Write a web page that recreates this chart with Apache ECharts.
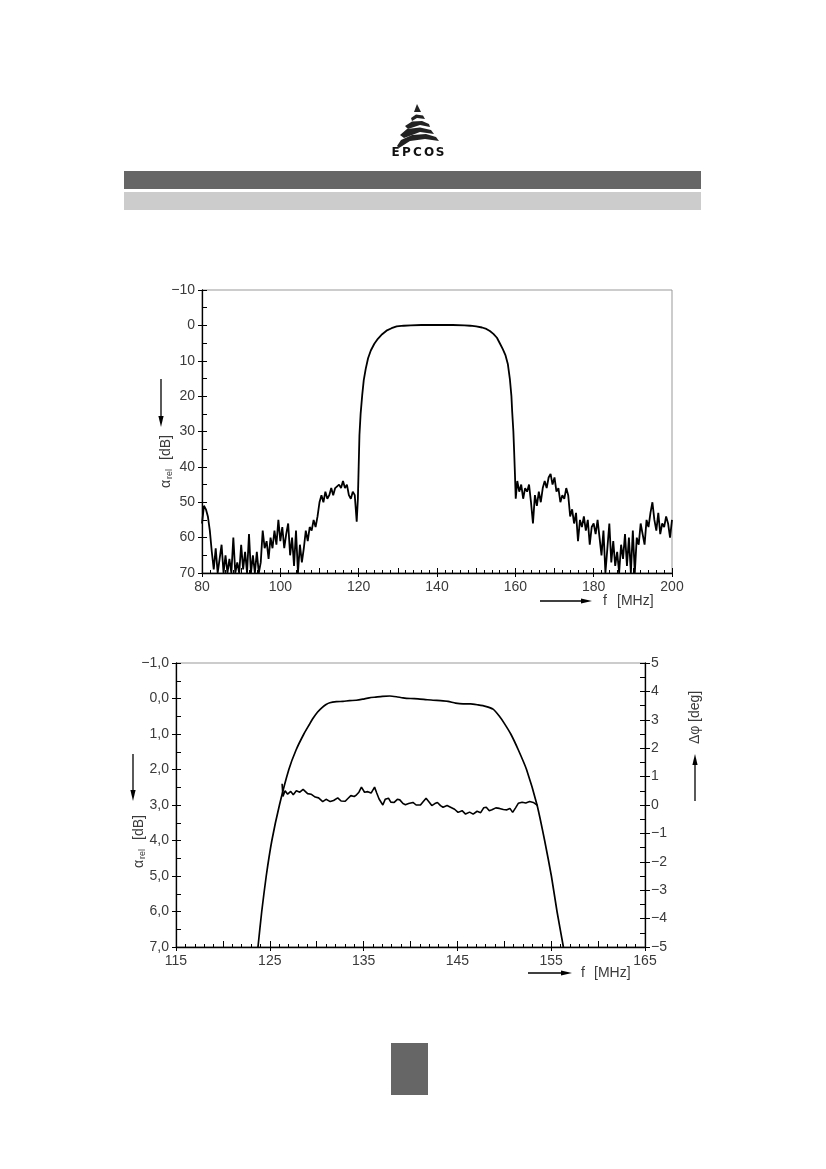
<!DOCTYPE html>
<html>
<head>
<meta charset="utf-8">
<script src="https://cdn.jsdelivr.net/npm/echarts@6/dist/echarts.min.js"></script>
<style>
html, body { margin: 0; padding: 0; background: #fff; }
#main { width: 826px; height: 1169px; }
</style>
</head>
<body>
<div id="main"></div>
<script>
// upper chart: attenuation 80..200 MHz
var topFreq = [
  80, 80.5, 81, 81.5, 82, 82.5, 83, 83.5, 84, 84.5, 85, 85.5, 86, 86.5, 87, 87.5, 88, 88.5, 89, 89.5,
  90, 90.5, 91, 91.5, 92, 92.5, 93, 93.5, 94, 94.5, 95, 95.5, 96, 96.5, 97, 97.5, 98, 98.5, 99, 99.5,
  100, 100.5, 101, 101.5, 102, 102.5, 103, 103.5, 104, 104.5, 105, 105.5, 106, 106.5, 107, 107.5, 108, 108.5, 109, 109.5,
  110, 110.5, 111, 111.5, 112, 112.5, 113, 113.5, 114, 114.5, 115, 115.5, 116, 116.5, 117, 117.5, 118, 118.5, 119, 119.5,
  119.8, 120, 120.2, 120.5, 120.9, 121.3, 121.8, 122.4, 123.1, 124, 124.9, 126, 127.1, 128.4, 129.7,
  131.5, 133.3, 136, 140, 144, 147, 148.5, 150, 151.5, 152.6, 153.5, 154.4, 155.3, 156.1, 156.8,
  157.5, 158.1, 158.6, 159, 159.2, 159.5, 159.7, 159.9, 160.1,
  160.5, 161, 161.5, 162, 162.5, 163, 163.5, 164, 164.5, 165, 165.5, 166, 166.5, 167, 167.5, 168, 168.5, 169, 169.5, 170,
  170.5, 171, 171.5, 172, 172.5, 173, 173.5, 174, 174.5, 175, 175.5, 176, 176.5, 177, 177.5, 178, 178.5, 179, 179.5, 180,
  180.5, 181, 181.5, 182, 182.5, 183, 183.5, 184, 184.5, 185, 185.5, 186, 186.5, 187, 187.5, 188, 188.5, 189, 189.5, 190,
  190.5, 191, 191.5, 192, 192.5, 193, 193.5, 194, 194.5, 195, 195.5, 196, 196.5, 197, 197.5, 198, 198.5, 199, 199.5, 200
];
var topAtt = [
  56, 51, 52, 54, 58, 64, 69, 63, 70, 66, 62, 70, 65, 70, 66, 70, 60, 70, 67, 70,
  62, 69, 64, 70, 59, 70, 65, 70, 64, 70, 67, 58, 63, 61, 66, 60, 63, 58, 62, 55,
  61, 57, 63, 59, 56, 65, 60, 68, 58, 70, 62, 67, 63, 58, 61, 57, 58, 55, 57, 54,
  50, 48, 50, 47, 49, 48, 46, 48, 46, 46, 45, 46, 44, 46, 45, 48, 49, 47, 48, 55.5,
  49, 40, 31, 25, 19.8, 15.5, 12.3, 9.3, 7.1, 5.2, 3.8, 2.5, 1.5, 0.8, 0.3,
  0.1, 0, -0.1, -0.1, -0.1, 0, 0.1, 0.3, 0.6, 1.0, 1.6, 2.4, 3.5, 5.2, 6.7,
  8.5, 11, 15.1, 20, 24.5, 30, 35.8, 42, 49,
  44, 47, 45, 49, 46, 47, 45, 50, 56, 48, 51, 47, 50, 46, 44, 46, 43, 42, 45, 43,
  47, 46, 50, 48, 49, 46, 48, 54, 52, 56, 53, 61, 55, 57, 54, 58, 55, 62, 57, 56,
  59, 55, 60, 65, 58, 70, 63, 56, 67, 61, 68, 64, 70, 62, 66, 59, 68, 60, 70, 58,
  70, 60, 62, 56, 59, 62, 55, 57, 53, 50, 55, 58, 53, 59, 56, 57, 54, 56, 60, 55
];

// lower chart: passband attenuation (left axis) and phase deviation (right axis)
var botFreq = [
  123.74, 124.14, 124.62, 125.22, 126.03, 127.03, 127.8, 128.63, 129.2, 129.63, 130.1, 130.6, 131.0, 131.4, 132.1, 132.8, 133.5,
  134.2, 134.9, 135.6, 136.3, 137.0, 137.8, 138.5, 139.2, 140.0, 140.8, 141.6, 142.4, 143.2, 144.0, 144.8,
  145.6, 146.4, 147.2, 148.0, 148.8, 149.48, 150.0, 150.69, 151.5, 152.37, 153.49, 154.3, 155.02, 155.62, 156.3
];
var botAtt = [
  7.0, 6.0, 5.0, 4.0, 3.0, 2.0, 1.45, 1.0, 0.74, 0.55, 0.38, 0.25, 0.17, 0.12, 0.09, 0.08, 0.06,
  0.05, 0.02, -0.02, -0.04, -0.06, -0.07, -0.05, -0.02, 0.0, 0.01, 0.03, 0.05, 0.06, 0.08, 0.13,
  0.15, 0.15, 0.18, 0.22, 0.3, 0.5, 0.7, 1.0, 1.45, 2.0, 3.0, 4.0, 5.0, 6.0, 7.0
];
var phFreq = [
  126.31, 126.4, 126.63, 126.9, 127.23, 127.5, 127.83, 128.2, 128.55, 129.03, 129.4, 129.84, 130.2, 130.64,
  131.0, 131.44, 131.8, 132.24, 132.6, 133.04, 133.3, 133.64, 134.0, 134.25, 134.5, 134.77, 135.1, 135.45,
  135.8, 136.17, 136.4, 136.65, 137.05, 137.3, 137.65, 137.9, 138.26, 138.6, 138.86, 139.2, 139.46, 139.8,
  140.26, 140.6, 141.06, 141.3, 141.66, 142.0, 142.27, 142.6, 142.87, 143.2, 143.47, 143.9, 144.27, 144.7,
  145.07, 145.5, 145.87, 146.3, 146.68, 147.1, 147.48, 147.8, 148.08, 148.4, 148.68, 149.1, 149.48, 149.9,
  150.28, 150.6, 150.89, 151.2, 151.49, 151.9, 152.29, 152.7, 153.09, 153.3, 153.57
];
var phDeg = [
  0.75, 0.3, 0.5, 0.38, 0.48, 0.36, 0.5, 0.45, 0.55, 0.4, 0.38, 0.28, 0.25, 0.12,
  0.2, 0.12, 0.16, 0.25, 0.14, 0.13, 0.22, 0.33, 0.3, 0.36, 0.45, 0.63, 0.45, 0.47,
  0.42, 0.63, 0.42, 0.21, 0.0, 0.2, 0.24, 0.1, 0.09, 0.2, 0.18, 0.05, 0.01, 0.05,
  0.09, 0.0, 0.0, 0.1, 0.24, 0.1, -0.02, 0.05, 0.09, -0.02, -0.08, -0.02, -0.08, -0.15,
  -0.26, -0.2, -0.32, -0.25, -0.32, -0.22, -0.27, -0.1, -0.08, -0.2, -0.17, -0.1, -0.12, -0.16,
  -0.17, -0.12, -0.26, -0.1, 0.06, 0.1, 0.07, 0.12, 0.09, 0.12, -0.02
];

var FONT = "'Liberation Sans Narrow', 'Liberation Sans', sans-serif";
var TXT = '#3a3a3a';

function zip(xs, ys) {
    return xs.map(function (x, i) { return [x, ys[i]]; });
}
function minus(v) {
    return String(v).replace('-', '\u2212');
}
function comma(v) {
    return minus(v.toFixed(1).replace('.', ','));
}

// a labelled axis plus a twin that carries only the finer inside ticks
function mainAxis(extra) {
    return Object.assign({
        type: 'value',
        axisLine: { show: true, onZero: false, lineStyle: { color: '#000', width: 1.3 } },
        axisTick: { show: true, length: 4, lineStyle: { color: '#000', width: 1 } },
        splitLine: { show: false },
        axisLabel: { color: TXT, fontFamily: FONT, fontSize: 14, margin: 7 }
    }, extra);
}
function tickAxis(extra, minor) {
    return Object.assign({
        type: 'value',
        axisLine: { show: false, onZero: false },
        axisLabel: { show: false },
        splitLine: { show: false },
        axisTick: { show: true, inside: true, length: 5, lineStyle: { color: '#000', width: 1 } },
        minorTick: minor ? { show: true, splitNumber: minor, length: 3, lineStyle: { color: '#000', width: 1 } } : { show: false }
    }, extra);
}

function arrow(x1, y1, x2, y2) {
    var dx = x2 - x1, dy = y2 - y1, len = Math.sqrt(dx * dx + dy * dy);
    var ux = dx / len, uy = dy / len, hl = 11, hw = 2.6;
    var bx = x2 - ux * hl, by = y2 - uy * hl;
    return [
        { type: 'line', shape: { x1: x1, y1: y1, x2: bx, y2: by }, style: { stroke: '#000', lineWidth: 1.3 } },
        { type: 'polygon', shape: { points: [[x2, y2], [bx - uy * hw, by + ux * hw], [bx + uy * hw, by - ux * hw]] }, style: { fill: '#000' } }
    ];
}
function txt(x, y, s, size, align) {
    return { type: 'text', x: x, y: y, style: { text: s, fill: TXT, fontFamily: FONT, fontSize: size || 14, align: align || 'left', verticalAlign: 'middle' } };
}
// rotated axis title: symbol + subscript + unit, reading bottom to top
function vTitle(x, y, sym, sub, unit) {
    var kids = [txt(0, 0, sym, 14)];
    if (sub) kids.push(txt(9, 4, sub, 9));
    kids.push(txt(sub ? 28 : 22, 0, unit, 14));
    return { type: 'group', x: x, y: y, rotation: Math.PI / 2, children: kids };
}
function logoLetter(x, s) {
    return { type: 'text', x: x, y: 153, style: { text: s, fill: '#111', fontFamily: 'DejaVu Sans', fontWeight: 'bold', fontSize: 12, align: 'center', verticalAlign: 'middle' } };
}

var myChart = echarts.init(document.getElementById('main'));

var graphics = [
    // header
    { type: 'rect', shape: { x: 124, y: 171, width: 577, height: 18 }, style: { fill: '#666' } },
    { type: 'rect', shape: { x: 124, y: 192, width: 577, height: 18 }, style: { fill: '#ccc' } },
    // logo
    { type: 'polygon', shape: { points: [[417, 104], [414, 112], [421, 112]] }, style: { fill: '#222' } },
    { type: 'polygon', shape: { points: [[411, 118], [416, 114.5], [423, 115.5], [425, 119], [417, 118], [412, 121]] }, style: { fill: '#222' } },
    { type: 'polygon', shape: { points: [[405, 126], [412, 121.5], [422, 121], [429, 124], [430, 127], [420, 125], [408, 129]] }, style: { fill: '#222' } },
    { type: 'polygon', shape: { points: [[400, 135], [407, 129], [420, 127.5], [431, 130], [434, 134], [420, 132], [404, 138]] }, style: { fill: '#222' } },
    { type: 'polygon', shape: { points: [[397, 146], [401, 140], [412, 135], [426, 134], [436, 137], [439, 141], [425, 139], [410, 141], [399, 148]] }, style: { fill: '#222' } },
    logoLetter(395.5, 'E'), logoLetter(406.5, 'P'), logoLetter(417.5, 'C'), logoLetter(429, 'O'), logoLetter(440, 'S'),
    // footer block
    { type: 'rect', shape: { x: 391, y: 1043, width: 37, height: 52 }, style: { fill: '#666' } },
    // upper chart titles
    vTitle(166, 488, '\u03b1', 'rel', '[dB]'),
    txt(603, 601, 'f', 14),
    txt(617, 601, '[MHz]', 14),
    // lower chart titles
    vTitle(139, 868, '\u03b1', 'rel', '[dB]'),
    vTitle(695, 744, '\u0394\u03c6', '', '[deg]'),
    txt(581, 973, 'f', 14),
    txt(594, 973, '[MHz]', 14)
];
graphics = graphics
    .concat(arrow(161, 379, 161, 427))
    .concat(arrow(540, 601, 592, 601))
    .concat(arrow(133, 754, 133, 801))
    .concat(arrow(695, 801, 695, 754))
    .concat(arrow(528, 973, 572, 973));

var option = {
    animation: false,
    backgroundColor: '#fff',
    grid: [
        { left: 202, top: 290, width: 470, height: 283, show: true, borderColor: '#999', borderWidth: 1, containLabel: false },
        { left: 176, top: 663, width: 469, height: 284, show: true, borderColor: '#999', borderWidth: 1, containLabel: false }
    ],
    xAxis: [
        mainAxis({ gridIndex: 0, position: 'bottom', min: 80, max: 200, interval: 20 }),
        tickAxis({ gridIndex: 0, position: 'bottom', min: 80, max: 200, interval: 10 }, 5),
        mainAxis({ gridIndex: 1, position: 'bottom', min: 115, max: 165, interval: 10 }),
        tickAxis({ gridIndex: 1, position: 'bottom', min: 115, max: 165, interval: 5, axisTick: { show: true, inside: true, length: 6, lineStyle: { color: '#000' } } }, 5)
    ],
    yAxis: [
        mainAxis({ gridIndex: 0, position: 'left', min: -10, max: 70, interval: 10, inverse: true,
            axisLabel: { color: TXT, fontFamily: FONT, fontSize: 14, margin: 7, formatter: minus } }),
        tickAxis({ gridIndex: 0, position: 'left', min: -10, max: 70, interval: 5, inverse: true }),
        mainAxis({ gridIndex: 1, position: 'left', min: -1, max: 7, interval: 1, inverse: true,
            axisLabel: { color: TXT, fontFamily: FONT, fontSize: 14, margin: 7, formatter: comma } }),
        tickAxis({ gridIndex: 1, position: 'left', min: -1, max: 7, interval: 0.5, inverse: true }),
        mainAxis({ gridIndex: 1, position: 'right', min: -5, max: 5, interval: 1,
            axisTick: { show: true, length: 5, lineStyle: { color: '#000' } },
            axisLabel: { color: TXT, fontFamily: FONT, fontSize: 14, margin: 6, formatter: minus } }),
        tickAxis({ gridIndex: 1, position: 'right', min: -5, max: 5, interval: 0.5 })
    ],
    series: [
        {
            type: 'line', xAxisIndex: 0, yAxisIndex: 0, data: zip(topFreq, topAtt),
            showSymbol: false, clip: true, lineStyle: { color: '#000', width: 1.8 }
        },
        {
            type: 'line', xAxisIndex: 2, yAxisIndex: 2, data: zip(botFreq, botAtt), smooth: 0.2,
            showSymbol: false, clip: true, lineStyle: { color: '#000', width: 1.7 }
        },
        {
            type: 'line', xAxisIndex: 2, yAxisIndex: 4, data: zip(phFreq, phDeg),
            showSymbol: false, clip: true, lineStyle: { color: '#000', width: 1.6 }
        }
    ],
    graphic: graphics
};
myChart.setOption(option);
</script>
</body>
</html>
